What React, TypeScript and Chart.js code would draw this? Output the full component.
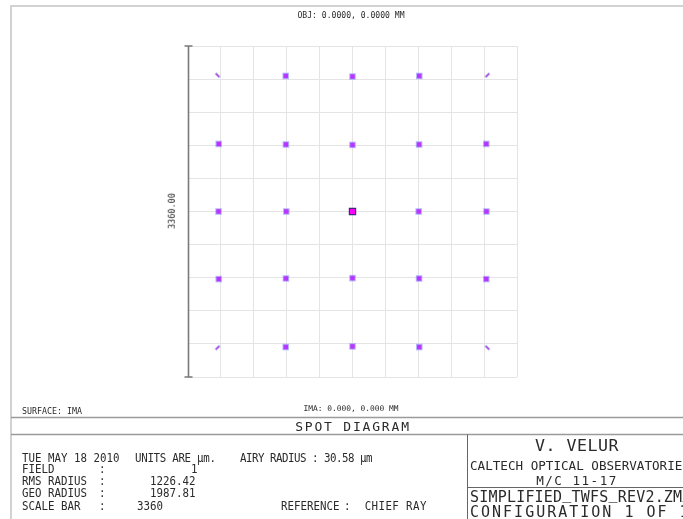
import React, { useEffect, useRef } from "react";
import { Chart, registerables } from "chart.js";

Chart.register(...registerables);

// ---- data (micrometres on the image surface) ----
const axisMin = -1680;
const axisMax = 1680;
const gridStep = 336; // 3360 µm scale bar / 10 divisions
const scaleBarLabel = "3360.00";

// spots (non-corner field points)
const spotX = [-682, 0, 682, -1366, -680, 0, 680, 1366, -1368, -676, 676, 1368, -1366, -680, 0, 680, 1366, -682, 0, 682];
const spotY = [1376, 1370, 1376, 686, 680, 676, 680, 686, 0, 0, 0, 0, -686, -680, -676, -680, -686, -1376, -1370, -1376];

// corner field points (streak-like spots)
const cornerX = [-1378, 1378, -1378, 1378];
const cornerY = [1383, 1383, -1383, -1383];
const cornerAngle = [45, -45, -45, 45];

// on-axis field point
const centerX = [0];
const centerY = [0];

const toPoints = (xs: number[], ys: number[]) => xs.map((x, i) => ({ x, y: ys[i] }));

const MONO = '"DejaVu Sans Mono", "Liberation Mono", monospace';

type Label = {
  text: string;
  x: number;
  y: number;
  size: number;
  align?: "left" | "center";
  ls?: number;
  rotate?: boolean;
  sy?: number;
};

const R1 = 459;
const R2 = 470;
const R3 = 482;
const R4 = 494;
const R5 = 507;
const INFO = 10.8;
const SY = 1.12;

const labels: Label[] = [
  { text: "OBJ: 0.0000, 0.0000 MM", x: 351, y: 15, size: 8.1, align: "center" },
  { text: scaleBarLabel, x: 172, y: 211, size: 8.5, align: "center", rotate: true },
  { text: "SURFACE: IMA", x: 22, y: 411, size: 8.3 },
  { text: "IMA: 0.000, 0.000 MM", x: 351, y: 409, size: 7.9, align: "center" },
  { text: "SPOT DIAGRAM", x: 353, y: 426, size: 13, align: "center", ls: 1.8 },
  { text: "TUE MAY 18 2010", x: 22, y: R1, size: INFO, sy: SY },
  { text: "UNITS ARE µm.", x: 135, y: R1, size: INFO, sy: SY, ls: -0.3 },
  { text: "AIRY RADIUS : 30.58 µm", x: 240, y: R1, size: INFO, sy: SY, ls: -0.5 },
  { text: "FIELD", x: 22, y: R2, size: INFO, sy: SY },
  { text: ":", x: 99, y: R2, size: INFO, sy: SY },
  { text: "1", x: 191, y: R2, size: INFO, sy: SY },
  { text: "RMS RADIUS", x: 22, y: R3, size: INFO, sy: SY },
  { text: ":", x: 99, y: R3, size: INFO, sy: SY },
  { text: "1226.42", x: 150, y: R3, size: INFO, sy: SY },
  { text: "GEO RADIUS", x: 22, y: R4, size: INFO, sy: SY },
  { text: ":", x: 99, y: R4, size: INFO, sy: SY },
  { text: "1987.81", x: 150, y: R4, size: INFO, sy: SY },
  { text: "SCALE BAR", x: 22, y: R5, size: INFO, sy: SY },
  { text: ":", x: 99, y: R5, size: INFO, sy: SY },
  { text: "3360", x: 137, y: R5, size: INFO, sy: SY },
  { text: "REFERENCE", x: 281, y: R5, size: INFO, sy: SY },
  { text: ":  CHIEF RAY", x: 344, y: R5, size: INFO, sy: SY, ls: 0.4 },
  { text: "V. VELUR", x: 577, y: 446, size: 16.6, align: "center", ls: 0.5 },
  { text: "CALTECH OPTICAL OBSERVATORIES", x: 470, y: 466, size: 12.6 },
  { text: "M/C 11-17", x: 577, y: 481, size: 12.6, align: "center", ls: 1.5 },
  { text: "SIMPLIFIED_TWFS_REV2.ZMX", x: 470, y: 497, size: 15, ls: 0.2 },
  { text: "CONFIGURATION 1 OF 1", x: 470, y: 512, size: 15, ls: 2 },
];

const framePlugin = {
  id: "zemaxFrame",
  beforeDraw(chart: any) {
    const ctx = chart.ctx as CanvasRenderingContext2D;
    const W = chart.width;
    const H = chart.height;
    ctx.save();
    ctx.fillStyle = "#ffffff";
    ctx.fillRect(0, 0, W, H);
    ctx.strokeStyle = "#d2d2d2";
    ctx.lineWidth = 2;
    ctx.beginPath();
    ctx.moveTo(11, H);
    ctx.lineTo(11, 6);
    ctx.lineTo(W, 6);
    ctx.stroke();
    ctx.strokeStyle = "#9a9a9a";
    ctx.lineWidth = 1.5;
    ctx.beginPath();
    ctx.moveTo(11, 417.5);
    ctx.lineTo(W, 417.5);
    ctx.moveTo(11, 434.5);
    ctx.lineTo(W, 434.5);
    ctx.stroke();
    ctx.strokeStyle = "#666666";
    ctx.lineWidth = 1;
    ctx.beginPath();
    ctx.moveTo(467.5, 434.5);
    ctx.lineTo(467.5, H);
    ctx.moveTo(467.5, 487.5);
    ctx.lineTo(W, 487.5);
    ctx.stroke();
    ctx.restore();
  },
  afterDatasetsDraw(chart: any) {
    const ctx = chart.ctx as CanvasRenderingContext2D;
    const a = chart.chartArea;
    const x = a.left + 0.5;
    ctx.save();
    ctx.strokeStyle = "#7a7a7a";
    ctx.lineWidth = 1.6;
    ctx.beginPath();
    ctx.moveTo(x, a.top);
    ctx.lineTo(x, a.bottom);
    ctx.moveTo(x - 4, a.top);
    ctx.lineTo(x + 4, a.top);
    ctx.moveTo(x - 4, a.bottom);
    ctx.lineTo(x + 4, a.bottom);
    ctx.stroke();
    ctx.restore();
  },
};

// raise underscores to the baseline, as in the plotter font
const renderText = (t: string) =>
  t.split(/(_)/).map((part, i) =>
    part === "_" ? (
      <span key={i} style={{ position: "relative", top: -3 }}>
        _
      </span>
    ) : (
      <React.Fragment key={i}>{part}</React.Fragment>
    )
  );

export default function App() {
  const ref = useRef<HTMLCanvasElement>(null);

  useEffect(() => {
    if (!ref.current) return;
    const chart = new Chart(ref.current, {
      type: "scatter",
      data: {
        datasets: [
          {
            label: "halo",
            data: toPoints(spotX, spotY),
            pointStyle: "rect",
            pointRadius: 4.6,
            backgroundColor: "rgba(110,110,255,0.5)",
            borderWidth: 0,
          },
          {
            label: "core",
            data: toPoints(spotX, spotY),
            pointStyle: "rect",
            pointRadius: 3.2,
            backgroundColor: "#ff00ff",
            borderWidth: 0,
          },
          {
            label: "corner halo",
            data: toPoints(cornerX, cornerY),
            pointStyle: "line",
            pointRadius: 3,
            pointRotation: cornerAngle,
            borderColor: "rgba(110,110,255,0.5)",
            borderWidth: 2.6,
            backgroundColor: "rgba(110,110,255,0.5)",
          },
          {
            label: "corner core",
            data: toPoints(cornerX, cornerY),
            pointStyle: "line",
            pointRadius: 2.2,
            pointRotation: cornerAngle,
            borderColor: "#ff30b0",
            borderWidth: 1.4,
            backgroundColor: "#ff30b0",
          },
          {
            label: "center",
            data: toPoints(centerX, centerY),
            pointStyle: "rect",
            pointRadius: 4.4,
            backgroundColor: "#ff00ff",
            borderColor: "#3a2a80",
            borderWidth: 1.2,
          },
        ],
      },
      options: {
        responsive: false,
        animation: false,
        events: [],
        layout: { padding: { left: 188, right: 166, top: 46, bottom: 142 } },
        plugins: {
          legend: { display: false },
          tooltip: { enabled: false },
          title: { display: false },
        },
        scales: {
          x: {
            type: "linear",
            min: axisMin,
            max: axisMax,
            ticks: { display: false, stepSize: gridStep },
            grid: { color: "#e4e4e4", lineWidth: 1, drawTicks: false },
            border: { display: false },
          },
          y: {
            type: "linear",
            min: axisMin,
            max: axisMax,
            ticks: { display: false, stepSize: gridStep },
            grid: { color: "#e4e4e4", lineWidth: 1, drawTicks: false },
            border: { display: false },
          },
        },
      },
      plugins: [framePlugin],
    });
    return () => chart.destroy();
  }, []);

  return (
    <div
      style={{
        position: "absolute",
        left: 0,
        top: 0,
        width: 683,
        height: 519,
        overflow: "hidden",
        background: "#fff",
      }}
    >
      <canvas ref={ref} width={683} height={519} style={{ position: "absolute", left: 0, top: 0 }} />
      {labels.map((l, i) => {
        const plain = !l.rotate && l.align !== "center";
        return (
          <div
            key={i}
            style={{
              position: "absolute",
              left: l.x,
              top: l.y,
              fontFamily: MONO,
              fontSize: l.size,
              lineHeight: 1,
              letterSpacing: l.ls ?? 0,
              color: "#2a2a2a",
              whiteSpace: "pre",
              transformOrigin: plain ? "left center" : "center center",
              transform: l.rotate
                ? "translate(-50%, -50%) rotate(-90deg)"
                : l.align === "center"
                ? "translate(-50%, -50%)"
                : `translateY(-50%) scaleY(${l.sy ?? 1})`,
            }}
          >
            {renderText(l.text)}
          </div>
        );
      })}
    </div>
  );
}
